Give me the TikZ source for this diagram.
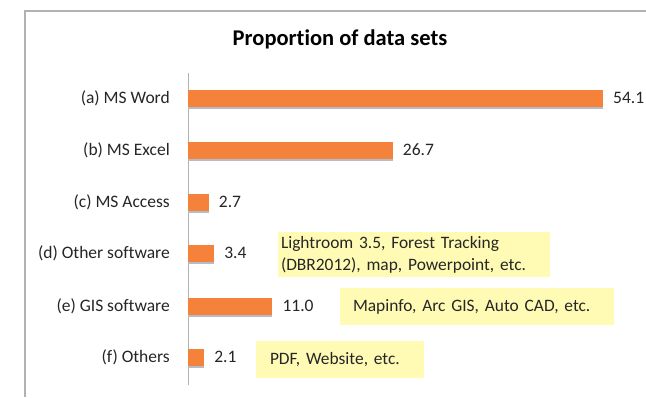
\documentclass[tikz,border=0pt]{standalone}
\usepackage{fontspec}
\setmainfont[Ligatures=NoCommon]{Carlito}
\usetikzlibrary{calc}
\newcommand*{\axisx }{188}
\newcommand*{\unitw }{7.67}
\newcommand*{\barht }{17}
\definecolor{barorange}{RGB}{244,130,58}
\definecolor{noteyellow}{RGB}{255,251,180}
\definecolor{framegray}{RGB}{178,178,178}
\definecolor{shadowgray}{RGB}{150,158,175}

\begin{document}
\begin{tikzpicture}[x=1pt, y=-1pt, font=\fontsize{17.5}{21}\selectfont,
    catlabel/.style={anchor=east, inner sep=0pt, text=black!85},
    vallabel/.style={anchor=west, inner sep=0pt, text=black!85},
    note/.style={fill=noteyellow, inner ysep=0pt, align=left, text=black!85,
                 font=\fontsize{17.4}{22}\selectfont}]
    \useasboundingbox (0,0) rectangle (646,397);
    \fill [white] (0,0) rectangle (646,397);
    \draw [framegray, line width=1.6pt] (646,11) -- (25,11) -- (25,397);
    \node [font=\bfseries\fontsize{22.5}{27}\selectfont] (title) at (340,39) {Proportion of data sets};
    \draw [framegray, line width=0.8pt] (\axisx,73) -- (\axisx,385);
    \foreach \y/\v/\name/\lab in {98/54.1/a/{(a) MS Word},
                                 150/26.7/b/{(b) MS Excel},
                                 202/2.7/c/{(c) MS Access},
                                 253/3.4/d/{(d) Other software},
                                 306/11.0/e/{(e) GIS software},
                                 357/2.1/f/{(f) Others}}{
        \fill [shadowgray!70] (\axisx,\y+\barht/2) rectangle ++(\v*\unitw,2.5);
        \fill [barorange] (\axisx,\y-\barht/2) rectangle ++(\v*\unitw,\barht);
        \node [catlabel] (cat-\name) at (170,\y) {\lab};
        \node [vallabel] (val-\name) at (\axisx+\v*\unitw+10,\y) {\v};
    }
    \node [note, text width=266pt, inner xsep=3pt, minimum height=45pt] (note-d) at (414,254.5)
        {Lightroom 3.5, Forest Tracking\\(DBR2012), map, Powerpoint, etc.};
    \node [note, text width=248pt, inner xsep=13pt, minimum height=37pt] (note-e) at (477,306.5)
        {Mapinfo, Arc GIS, Auto CAD, etc.};
    \node [note, text width=140pt, inner xsep=14pt, minimum height=37pt] (note-f) at (340,359.5)
        {PDF, Website, etc.};
\end{tikzpicture}
\end{document}
